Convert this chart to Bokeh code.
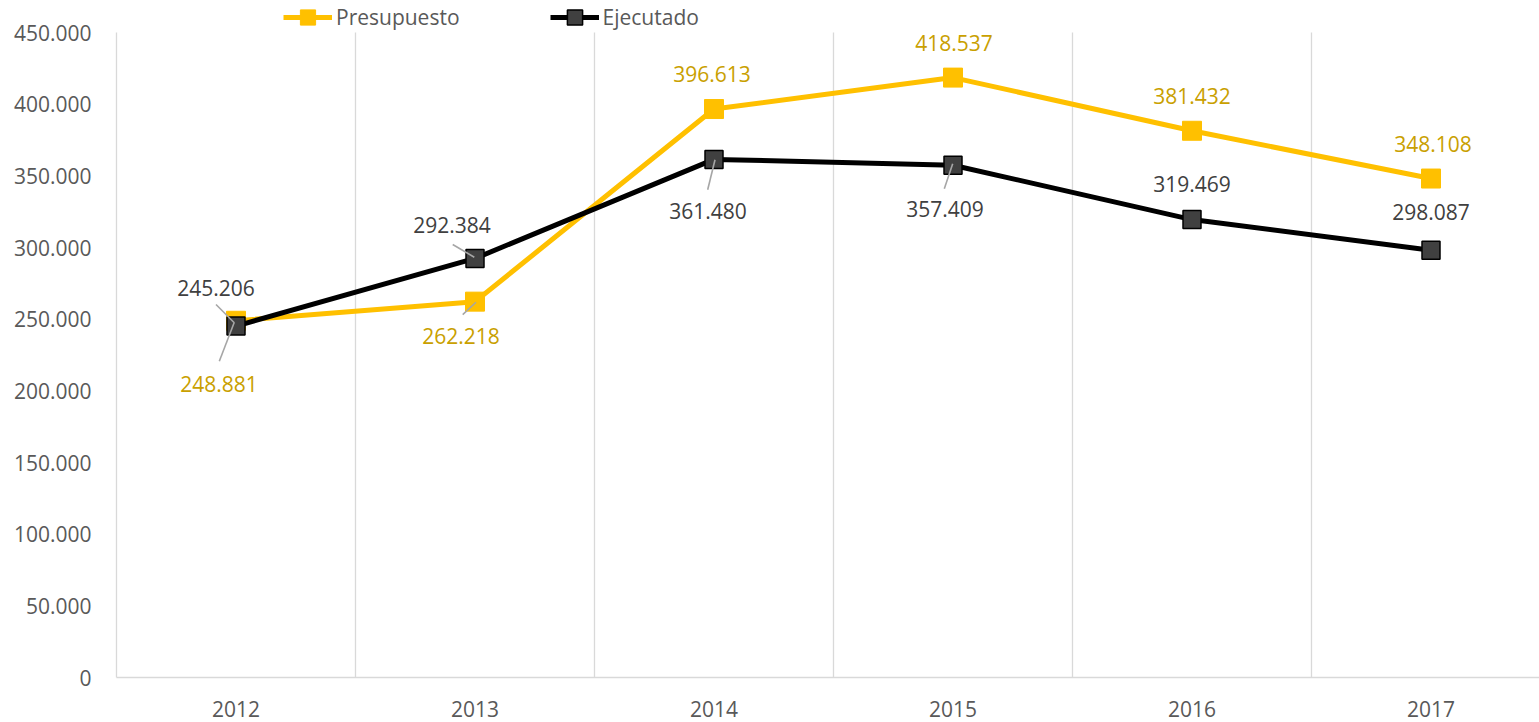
from bokeh.plotting import figure
from bokeh.models import Range1d, FixedTicker, Legend, LegendItem, ColumnDataSource
from bokeh.core.properties import value
from bokeh.embed import file_html
from bokeh.resources import INLINE

years = ["2012", "2013", "2014", "2015", "2016", "2017"]
presupuesto = [248881, 262218, 396613, 418537, 381432, 348108]
ejecutado = [245206, 292384, 361480, 357409, 319469, 298087]
y_ticks = [0, 50000, 100000, 150000, 200000, 250000, 300000, 350000, 400000, 450000]
y_tick_labels = ["0", "50.000", "100.000", "150.000", "200.000", "250.000",
                 "300.000", "350.000", "400.000", "450.000"]

def fmt(v):
    return f"{v:,}".replace(",", ".")

FONT = "Open Sans"
FS = "21px"
YEL = "#FFC000"
YEL_TXT = "#C9A000"
DARK = "#404040"
AX = "#595959"
GRID = "#D9D9D9"

W, H = 1539, 722
LEFT, BOTTOM = 116, 45
PLOT_TOP = 32            # pixel row where the top tick sits
UX = 239.0               # pixels per category
frame_h = H - BOTTOM
ymax = y_ticks[-1]
y_end = ymax * frame_h / (frame_h - PLOT_TOP)

p = figure(width=W, height=H, output_backend="svg", toolbar_location=None,
           x_range=Range1d(-0.5, -0.5 + (W - LEFT) / UX), y_range=Range1d(0, y_end),
           min_border_left=LEFT, min_border_right=0, min_border_top=0, min_border_bottom=BOTTOM)
p.outline_line_color = None
p.background_fill_color = "white"

x = list(range(len(years)))

# grid (vertical separators between categories, up to the top tick)
p.ygrid.grid_line_color = None
p.xgrid.grid_line_color = None
bounds_x = [i + 0.5 for i in range(len(years) - 1)]
p.segment(x0=bounds_x, y0=[0] * len(bounds_x), x1=bounds_x, y1=[ymax] * len(bounds_x),
          line_color=GRID, line_width=1.3)

# axes
p.xaxis.ticker = FixedTicker(ticks=x)
p.xaxis.major_label_overrides = {i: y for i, y in enumerate(years)}
p.xaxis.axis_line_color = GRID
p.xaxis.axis_line_width = 1.5
p.xaxis.major_tick_line_color = None
p.xaxis.minor_tick_line_color = None
p.xaxis.major_label_standoff = 17
p.xaxis.major_label_text_font = FONT
p.xaxis.major_label_text_font_size = FS
p.xaxis.major_label_text_color = AX

p.yaxis.ticker = FixedTicker(ticks=y_ticks)
p.yaxis.bounds = (0, ymax)
p.yaxis.major_label_overrides = {t: l for t, l in zip(y_ticks, y_tick_labels)}
p.yaxis.axis_line_color = GRID
p.yaxis.axis_line_width = 1.3
p.yaxis.major_tick_line_color = None
p.yaxis.minor_tick_line_color = None
p.yaxis.major_label_standoff = 19
p.yaxis.major_label_text_font = FONT
p.yaxis.major_label_text_font_size = FS
p.yaxis.major_label_text_color = AX

# series
lp = p.line(x, presupuesto, line_color=YEL, line_width=5, line_join="round")
sp = p.scatter(x, presupuesto, marker="square", size=19, fill_color=YEL, line_color=YEL)
le = p.line(x, ejecutado, line_color="black", line_width=5, line_join="round")
se = p.scatter(x, ejecutado, marker="square", size=18, fill_color=DARK, line_color="black", line_width=1.5)

# leader lines (pixel offsets from marker -> data units)
UY = ymax / (frame_h - PLOT_TOP)
def leader(i, vals, start, end):
    return (i + start[0] / UX, vals[i] - start[1] * UY, i + end[0] / UX, vals[i] - end[1] * UY)

segs = [
    leader(0, presupuesto, (-16.7, 40.4), (-1.7, 1.4)),
    leader(1, presupuesto, (-12.3, 12.9), (1.0, 0.6)),
    leader(0, ejecutado, (-20.0, -21.5), (-2.0, -3.5)),
    leader(1, ejecutado, (-22.3, -13.9), (-0.7, -1.2)),
    leader(2, ejecutado, (-6.3, 30.4), (1.0, 0.4)),
    leader(3, ejecutado, (-8.7, 23.6), (-0.3, -1.4)),
]
p.segment(x0=[s[0] for s in segs], y0=[s[1] for s in segs],
          x1=[s[2] for s in segs], y1=[s[3] for s in segs],
          line_color="#A6A6A6", line_width=1.6)

# data labels
p_dx = [-17, -14, -2, 1, 0, 2]
p_dy = [63, 34, -35.5, -35, -35, -35]
e_dx = [-20, -23, -6, -8, 0, 0]
e_dy = [-38.5, -33, 52, 44, -36, -38]

src_p = ColumnDataSource(dict(x=x, y=presupuesto, t=[fmt(v) for v in presupuesto], dx=p_dx, dy=p_dy))
src_e = ColumnDataSource(dict(x=x, y=ejecutado, t=[fmt(v) for v in ejecutado], dx=e_dx, dy=e_dy))
p.text(x="x", y="y", text="t", x_offset="dx", y_offset="dy", source=src_p,
       text_font=value(FONT), text_font_size=FS, text_color=YEL_TXT,
       text_align="center", text_baseline="middle")
p.text(x="x", y="y", text="t", x_offset="dx", y_offset="dy", source=src_e,
       text_font=value(FONT), text_font_size=FS, text_color=DARK,
       text_align="center", text_baseline="middle")

legend = Legend(items=[LegendItem(label="Presupuesto", renderers=[lp, sp]),
                       LegendItem(label="Ejecutado", renderers=[le, se])],
                orientation="horizontal", location=(283 - LEFT, frame_h - 17 - 19),
                padding=0, margin=0, spacing=90, glyph_width=49, glyph_height=38,
                label_standoff=4, label_height=20,
                label_text_font=FONT, label_text_font_size=FS, label_text_color=AX,
                border_line_color=None, background_fill_alpha=0)
p.add_layout(legend, "center")

open("out.html", "w").write(file_html(p, INLINE))
